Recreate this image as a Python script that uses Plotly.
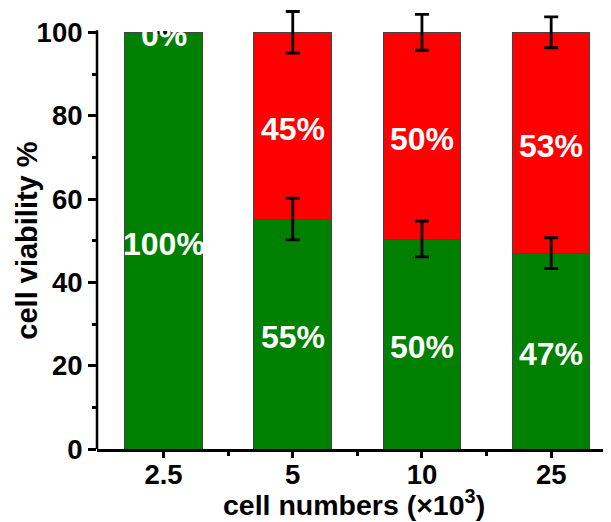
import plotly.graph_objects as go

categories = ["2.5", "5", "10", "25"]
live = [100, 55.2, 50.4, 47.0]
dead = [0, 44.8, 49.6, 53.0]
live_err = [None, 5.0, 4.3, 3.7]
dead_err = [None, 5.0, 4.3, 3.7]
live_labels = ["100%", "55%", "50%", "47%"]
dead_labels = ["0%", "45%", "50%", "53%"]
y_ticks = [0, 20, 40, 60, 80, 100]
y_minor = [10, 30, 50, 70, 90]
x_title = "cell numbers (×10<sup>3</sup>)"
y_title = "cell viability %"

xpos = list(range(len(categories)))
FONT = "Liberation Sans, Arial, sans-serif"
stack_top = [a + b for a, b in zip(live, dead)]

fig = go.Figure()
fig.add_trace(go.Bar(
    x=xpos, y=live, width=0.6,
    marker=dict(color="#008000", line=dict(color="#444444", width=1)),
    showlegend=False, hoverinfo="skip",
))
fig.add_trace(go.Bar(
    x=xpos, y=dead, width=0.6,
    marker=dict(color="#ff0000", line=dict(color="#444444", width=1)),
    showlegend=False, hoverinfo="skip",
))
# error bars drawn on top of both stacked segments
for tops, errs in ((live, live_err), (stack_top, dead_err)):
    fig.add_trace(go.Scatter(
        x=xpos, y=tops, mode="markers",
        marker=dict(size=1, opacity=0),
        error_y=dict(type="data", array=errs, visible=True, color="black", thickness=2.8, width=7),
        showlegend=False, hoverinfo="skip",
    ))

for i in xpos:
    fig.add_annotation(x=i, y=live[i] / 2, text=live_labels[i], showarrow=False, yshift=-3,
                       font=dict(family=FONT, size=32, color="white", weight="bold"))
    fig.add_annotation(x=i, y=live[i] + dead[i] / 2, text=dead_labels[i], showarrow=False, yshift=-3,
                       font=dict(family=FONT, size=32, color="white", weight="bold"))

# axis titles
fig.add_annotation(x=0.5, xref="paper", y=0, yref="paper", yshift=-54, yanchor="middle",
                   text=x_title, showarrow=False,
                   font=dict(family=FONT, size=28.5, color="black", weight="bold"))
fig.add_annotation(x=0, xref="paper", xshift=-70, xanchor="center", y=50, yref="y",
                   text=y_title, textangle=-90, showarrow=False,
                   font=dict(family=FONT, size=29, color="black", weight="bold"))

# left axis line, stopping just above 100
fig.add_shape(type="line", xref="paper", x0=0, x1=0, yref="y", y0=0, y1=100.5,
              line=dict(color="black", width=2.5))

fig.update_layout(
    width=603, height=514,
    margin=dict(l=89, r=0, t=1, b=73),
    barmode="stack",
    plot_bgcolor="white", paper_bgcolor="white",
    font=dict(family=FONT, color="black"),
    xaxis=dict(
        range=[-0.515, 3.463], showgrid=False, zeroline=False,
        showline=True, linecolor="black", linewidth=2.5,
        ticks="outside", ticklen=6, tickwidth=2.5, tickcolor="black",
        tickmode="array", tickvals=xpos, ticktext=categories,
        ticklabelstandoff=-7,
        tickfont=dict(family=FONT, size=27.5, weight="bold"),
        minor=dict(tickmode="array", tickvals=[0.5, 1.5, 2.5], ticks="outside",
                   ticklen=4, tickwidth=2.5, tickcolor="black"),
    ),
    yaxis=dict(
        range=[0, 105.6], showgrid=False, zeroline=False,
        showline=False,
        ticks="outside", ticklen=8, tickwidth=2.5, tickcolor="black",
        tickmode="array", tickvals=y_ticks,
        tickfont=dict(family=FONT, size=27.5, weight="bold"),
        minor=dict(tickmode="array", tickvals=y_minor, ticks="outside",
                   ticklen=4, tickwidth=2.5, tickcolor="black"),
    ),
)

fig.write_html("out.html")
